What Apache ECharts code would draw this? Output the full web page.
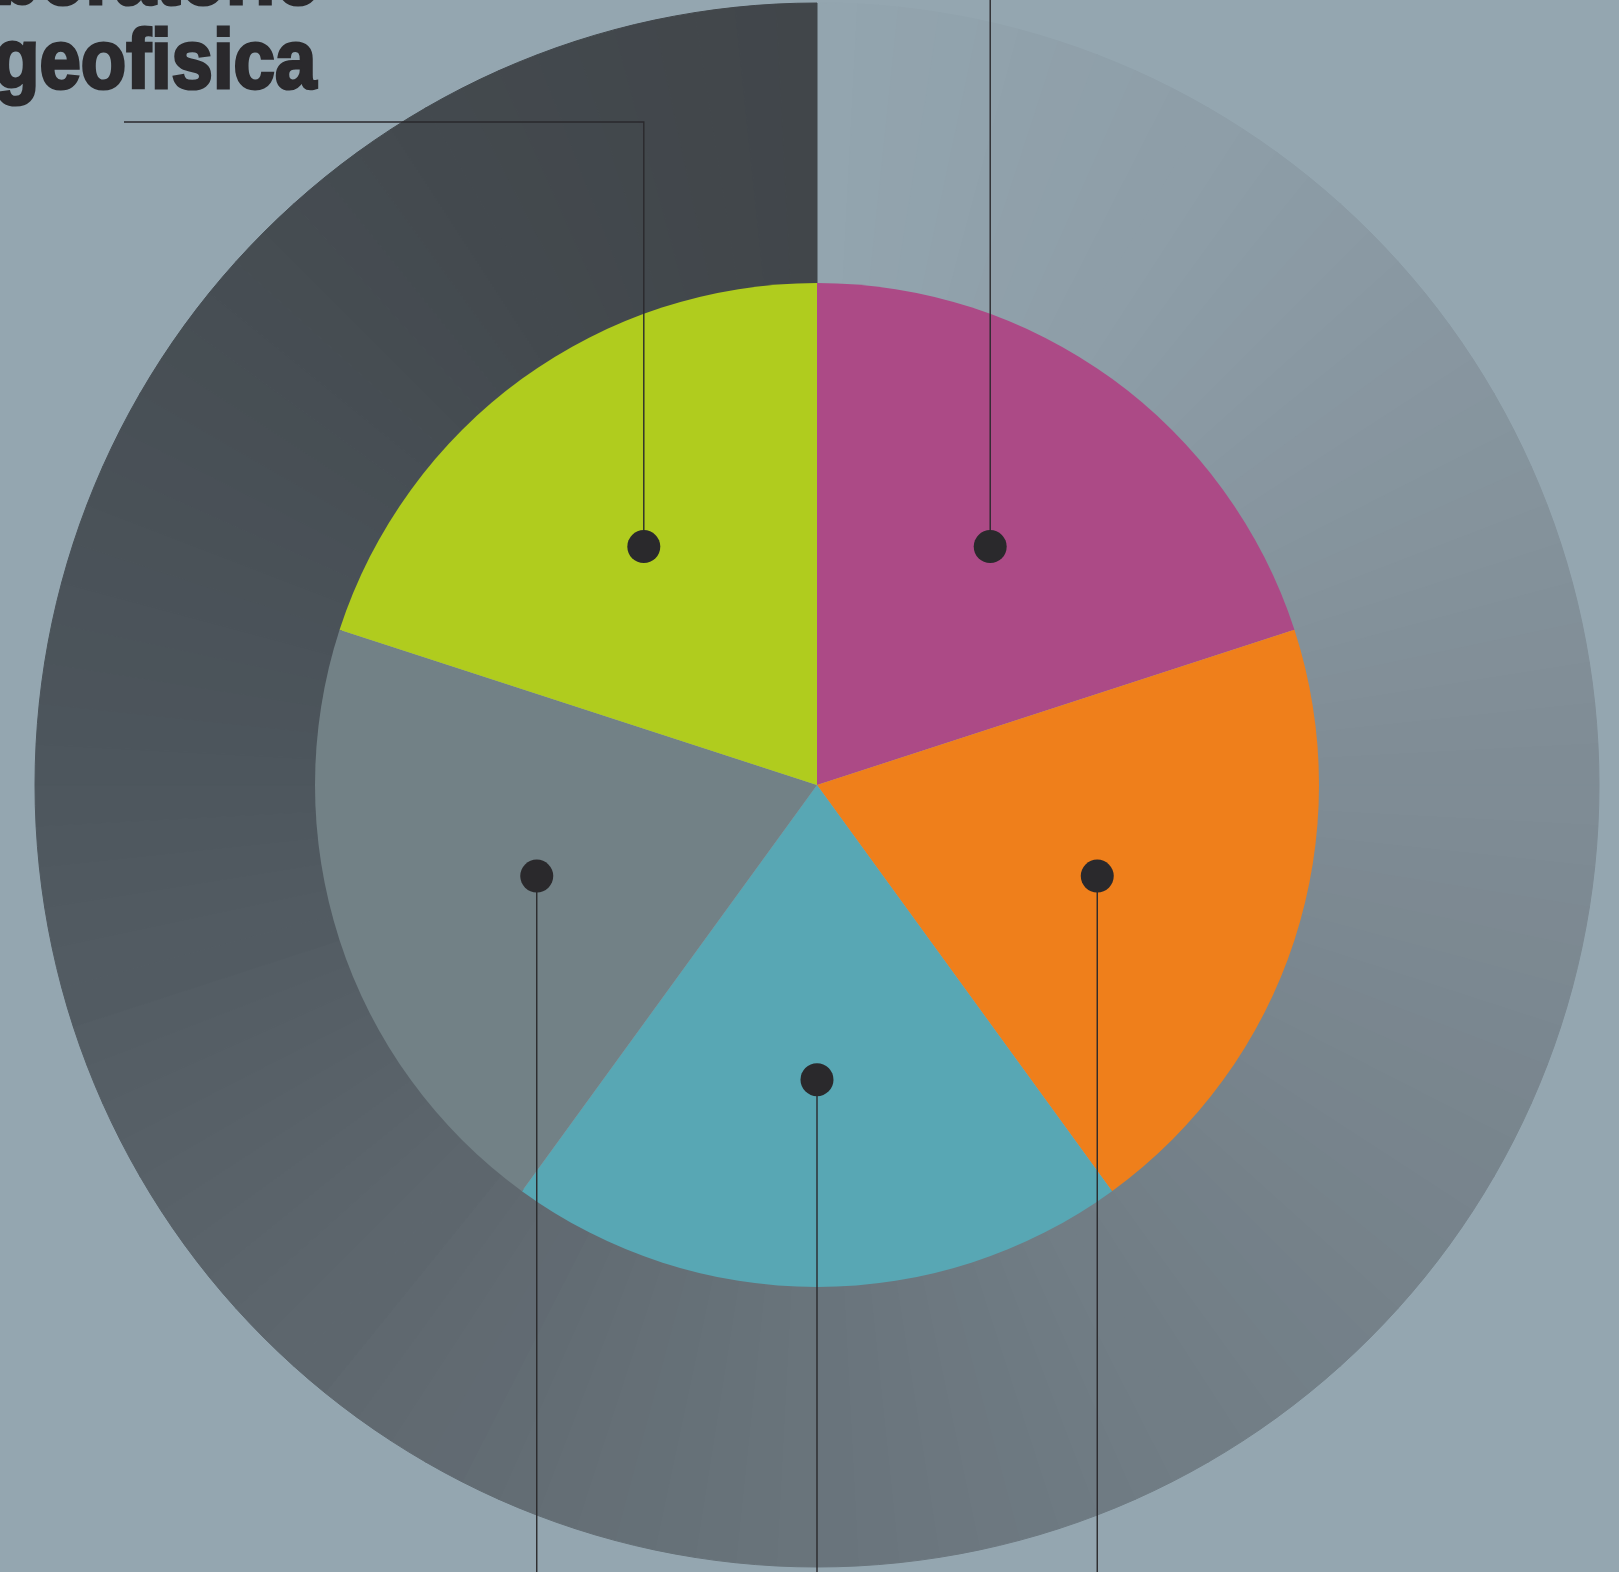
<!DOCTYPE html>
<html>
<head>
<meta charset="utf-8">
<script src="https://cdn.jsdelivr.net/npm/echarts@6/dist/echarts.min.js"></script>
<style>
html,body{margin:0;padding:0;background:#94a6b0;overflow:hidden}
#c{width:1619px;height:1572px}
</style>
</head>
<body>
<div id="c"></div>
<script>
// ---- data ----
const titleLines = ['Laboratorio', 'geofisica'];
const sliceNames = ['magenta', 'arancione', 'azzurro', 'grigio', 'verde'];
const sliceValues = [20, 20, 20, 20, 20];
const markerRadius = [0.587, 0.587, 0.587, 0.587, 0.587];
// decorative outer ring: equal shares, coloured by a conic ramp
const ringShares = new Array(120).fill(1);

// ---- styles / layout ----
const sliceColors = ['#ac4a86', '#ef7f1b', '#58a7b4', '#728186', '#b0cc1e'];
const ringStops = [
  [0, '#93a5af'], [30, '#8e9ea8'], [90, '#7f8c95'], [150, '#717d85'],
  [180, '#69747c'], [210, '#616a71'], [270, '#4d565d'], [330, '#43494e'], [360, '#41464a']
];
const CENTER = [817, 785];
const R_IN = 502, R_OUT = 782;
const elbow = { 4: { x: 124, y: 122 } };
const INK = '#2a292c';

function hex(c){ return [1,3,5].map(i => parseInt(c.slice(i, i+2), 16)); }
function rampColor(deg){
  for (let i = 1; i < ringStops.length; i++){
    if (deg <= ringStops[i][0]){
      const a = ringStops[i-1], b = ringStops[i];
      const t = (deg - a[0]) / (b[0] - a[0]);
      const ca = hex(a[1]), cb = hex(b[1]);
      const m = ca.map((v, k) => Math.round(v + (cb[k] - v) * t));
      return 'rgb(' + m.join(',') + ')';
    }
  }
  return ringStops[ringStops.length-1][1];
}

const ringTotal = ringShares.reduce((a, b) => a + b, 0);
let acc = 0;
const ringData = ringShares.map(v => {
  const mid = (acc + v / 2) / ringTotal * 360; acc += v;
  const col = rampColor(mid);
  return { value: v, itemStyle: { color: col, borderColor: col, borderWidth: 1 } };
});

const total = sliceValues.reduce((a, b) => a + b, 0);
let cum = 0;
const markerData = sliceValues.map((v, i) => {
  const mid = cum + v / 2; cum += v;
  return [markerRadius[i], mid, i];
});

const titleStyle = { font: 'bold 84px "Liberation Sans"', fill: INK, stroke: INK, lineWidth: 3.2 };

const chart = echarts.init(document.getElementById('c'), null, { renderer: 'canvas' });
chart.setOption({
  backgroundColor: '#94a6b0',
  animation: false,
  polar: { center: CENTER, radius: R_IN },
  angleAxis: { type: 'value', min: 0, max: total, startAngle: 90, clockwise: true, show: false },
  radiusAxis: { type: 'value', min: 0, max: 1, show: false },
  graphic: [
    { type: 'text', x: -92, y: -61, scaleX: 0.885, z: 100,
      style: Object.assign({ text: titleLines[0] }, titleStyle) },
    { type: 'text', x: -6, y: 23, scaleX: 0.885, z: 100,
      style: Object.assign({ text: titleLines[1] }, titleStyle) }
  ],
  series: [
    {
      type: 'pie', center: CENTER, radius: [R_IN - 2, R_OUT], startAngle: 90, clockwise: true,
      silent: true, label: { show: false }, labelLine: { show: false }, emphasis: { disabled: true },
      data: ringData, z: 1
    },
    {
      type: 'pie', center: CENTER, radius: [0, R_IN], startAngle: 90, clockwise: true,
      silent: true, label: { show: false }, labelLine: { show: false }, emphasis: { disabled: true },
      data: sliceValues.map((v, i) => ({ name: sliceNames[i], value: v, itemStyle: { color: sliceColors[i] } })),
      z: 2
    },
    {
      type: 'custom', coordinateSystem: 'polar', silent: true, z: 10,
      data: markerData,
      renderItem: function (params, api) {
        const p = api.coord([api.value(0), api.value(1)]);
        const c = api.coord([0, 0]);
        const idx = api.value(2);
        const H = api.getHeight();
        let pts;
        if (elbow[idx]) pts = [[p[0], p[1]], [p[0], elbow[idx].y], [elbow[idx].x, elbow[idx].y]];
        else if (p[1] < c[1]) pts = [[p[0], p[1]], [p[0], 0]];
        else pts = [[p[0], p[1]], [p[0], H]];
        return {
          type: 'group',
          children: [
            { type: 'polyline', shape: { points: pts }, style: { stroke: INK, lineWidth: 1.4, fill: null } },
            { type: 'circle', shape: { cx: p[0], cy: p[1], r: 16.5 }, style: { fill: INK } }
          ]
        };
      }
    }
  ]
});
</script>
</body>
</html>
